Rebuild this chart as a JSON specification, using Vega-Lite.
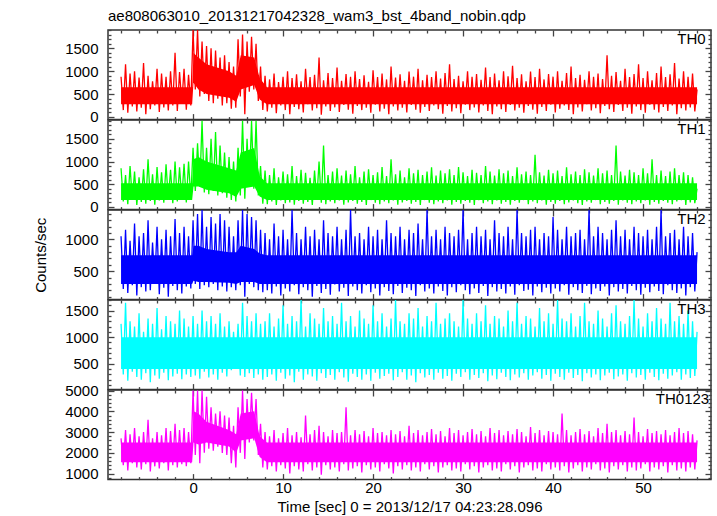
{
"$schema": "https://vega.github.io/schema/vega-lite/v6.json",
"background": "white",
"padding": {"left": 32, "top": 8, "right": 5, "bottom": 0},
"spacing": 0,
"bounds": "flush",
"config": {
 "font": "Liberation Sans",
 "view": {"stroke": "#333333", "strokeWidth": 1.5},
 "axis": {"grid": false, "domain": false, "labelFont": "Liberation Sans", "labelFontSize": 15, "labelColor": "black", "tickColor": "#444444", "tickWidth": 1.3, "titleFont": "Liberation Sans", "titleFontSize": 15, "titleFontWeight": "normal", "titleColor": "black", "labelOverlap": false, "format": "d"},
 "text": {"font": "Liberation Sans", "fontSize": 15, "color": "black"}
},
"datasets": {
"core": [
{"t":-8,"l0":280,"h0":650,"l1":150,"h1":520,"l2":300,"h2":750,"l3":400,"h3":1000,"l4":1550,"h4":2500},
{"t":-0.1,"l0":280,"h0":650,"l1":150,"h1":520,"l2":300,"h2":750,"l3":400,"h3":1000,"l4":1550,"h4":2500},
{"t":0.05,"l0":750,"h0":1400,"l1":450,"h1":1050,"l2":350,"h2":900,"l3":400,"h3":1000,"l4":2500,"h4":4000},
{"t":0.6,"l0":600,"h0":1300,"l1":450,"h1":1100,"l2":330,"h2":900,"l3":400,"h3":1000,"l4":2400,"h4":3900},
{"t":1.5,"l0":500,"h0":1150,"l1":380,"h1":1000,"l2":330,"h2":850,"l3":400,"h3":1000,"l4":2500,"h4":3500},
{"t":4,"l0":420,"h0":1000,"l1":300,"h1":850,"l2":320,"h2":800,"l3":400,"h3":1000,"l4":2300,"h4":3100},
{"t":4.8,"l0":330,"h0":900,"l1":220,"h1":800,"l2":300,"h2":800,"l3":400,"h3":1000,"l4":2000,"h4":2900},
{"t":5.3,"l0":600,"h0":1350,"l1":400,"h1":1200,"l2":330,"h2":900,"l3":400,"h3":1000,"l4":2600,"h4":3900},
{"t":6.8,"l0":700,"h0":1300,"l1":450,"h1":1300,"l2":330,"h2":850,"l3":400,"h3":1000,"l4":2700,"h4":4000},
{"t":7.4,"l0":380,"h0":850,"l1":230,"h1":680,"l2":300,"h2":780,"l3":400,"h3":1000,"l4":1800,"h4":2800},
{"t":8.2,"l0":280,"h0":650,"l1":150,"h1":520,"l2":300,"h2":750,"l3":400,"h3":1000,"l4":1550,"h4":2500},
{"t":56,"l0":280,"h0":650,"l1":150,"h1":520,"l2":300,"h2":750,"l3":400,"h3":1000,"l4":1550,"h4":2500}
],
"lc": [
{"t":-8,"th0":880,"th1":850,"th2":1050,"th3":1250,"sum":2700},
{"t":-7.75,"th0":150,"th1":120,"th2":220,"th3":300,"sum":1400},
{"t":-7.5,"th0":1150,"th1":700,"th2":1150,"th3":1650,"sum":3100},
{"t":-7.25,"th0":90,"th1":60,"th2":160,"th3":180,"sum":1150},
{"t":-7,"th0":950,"th1":900,"th2":980,"th3":1300,"sum":2900},
{"t":-6.75,"th0":230,"th1":150,"th2":280,"th3":350,"sum":1500},
{"t":-6.5,"th0":1000,"th1":780,"th2":1250,"th3":1200,"sum":3200},
{"t":-6.25,"th0":120,"th1":40,"th2":120,"th3":250,"sum":1300},
{"t":-6,"th0":860,"th1":650,"th2":1050,"th3":1450,"sum":2800},
{"t":-5.75,"th0":200,"th1":110,"th2":250,"th3":200,"sum":1200},
{"t":-5.5,"th0":1180,"th1":830,"th2":1100,"th3":1100,"sum":3000},
{"t":-5.25,"th0":60,"th1":70,"th2":180,"th3":320,"sum":1450},
{"t":-5,"th0":900,"th1":1050,"th2":1300,"th3":1350,"sum":3600},
{"t":-4.75,"th0":170,"th1":130,"th2":200,"th3":150,"sum":1100},
{"t":-4.5,"th0":780,"th1":720,"th2":950,"th3":1250,"sum":2700},
{"t":-4.25,"th0":250,"th1":50,"th2":300,"th3":280,"sum":1350},
{"t":-4,"th0":1050,"th1":880,"th2":1200,"th3":1550,"sum":3000},
{"t":-3.75,"th0":110,"th1":140,"th2":140,"th3":220,"sum":1250},
{"t":-3.5,"th0":950,"th1":760,"th2":1000,"th3":1150,"sum":2850},
{"t":-3.25,"th0":210,"th1":90,"th2":240,"th3":330,"sum":1500},
{"t":-3,"th0":880,"th1":940,"th2":1150,"th3":1400,"sum":3200},
{"t":-2.75,"th0":140,"th1":160,"th2":100,"th3":190,"sum":1150},
{"t":-2.5,"th0":1000,"th1":820,"th2":1050,"th3":1300,"sum":3050},
{"t":-2.25,"th0":250,"th1":80,"th2":270,"th3":260,"sum":1400},
{"t":-2,"th0":1400,"th1":1000,"th2":1320,"th3":1250,"sum":3400},
{"t":-1.75,"th0":130,"th1":120,"th2":200,"th3":310,"sum":1300},
{"t":-1.5,"th0":980,"th1":870,"th2":1100,"th3":1500,"sum":3100},
{"t":-1.25,"th0":300,"th1":170,"th2":150,"th3":210,"sum":1450},
{"t":-1,"th0":1050,"th1":950,"th2":1200,"th3":1350,"sum":3200},
{"t":-0.75,"th0":160,"th1":100,"th2":260,"th3":300,"sum":1350},
{"t":-0.5,"th0":920,"th1":1000,"th2":1050,"th3":1200,"sum":3000},
{"t":-0.25,"th0":250,"th1":180,"th2":230,"th3":250,"sum":1500},
{"t":0,"th0":1900,"th1":1300,"th2":1300,"th3":1400,"sum":5000},
{"t":0.25,"th0":600,"th1":350,"th2":300,"th3":280,"sum":1900},
{"t":0.5,"th0":1900,"th1":1400,"th2":1400,"th3":1250,"sum":5000},
{"t":0.75,"th0":450,"th1":450,"th2":220,"th3":220,"sum":1500},
{"t":1,"th0":1650,"th1":1900,"th2":1460,"th3":1500,"sum":5000},
{"t":1.25,"th0":500,"th1":320,"th2":280,"th3":350,"sum":2000},
{"t":1.5,"th0":1550,"th1":1300,"th2":1200,"th3":1300,"sum":4700},
{"t":1.75,"th0":350,"th1":280,"th2":250,"th3":240,"sum":2200},
{"t":2,"th0":1500,"th1":1500,"th2":1350,"th3":1400,"sum":4200},
{"t":2.25,"th0":300,"th1":350,"th2":300,"th3":300,"sum":2100},
{"t":2.5,"th0":1450,"th1":1650,"th2":1250,"th3":1250,"sum":3900},
{"t":2.75,"th0":400,"th1":250,"th2":200,"th3":200,"sum":2300},
{"t":3,"th0":1300,"th1":1350,"th2":1400,"th3":1450,"sum":4000},
{"t":3.25,"th0":250,"th1":300,"th2":260,"th3":330,"sum":2000},
{"t":3.5,"th0":1350,"th1":1200,"th2":1300,"th3":1200,"sum":3800},
{"t":3.75,"th0":300,"th1":200,"th2":180,"th3":260,"sum":1900},
{"t":4,"th0":1200,"th1":1100,"th2":1200,"th3":1300,"sum":3700},
{"t":4.25,"th0":180,"th1":150,"th2":250,"th3":380,"sum":1500},
{"t":4.5,"th0":1100,"th1":1000,"th2":1050,"th3":1100,"sum":3300},
{"t":4.75,"th0":200,"th1":120,"th2":200,"th3":400,"sum":1300},
{"t":5,"th0":1700,"th1":1300,"th2":1300,"th3":1250,"sum":4200},
{"t":5.25,"th0":450,"th1":250,"th2":280,"th3":280,"sum":2000},
{"t":5.5,"th0":1800,"th1":1900,"th2":1460,"th3":1650,"sum":5000},
{"t":5.75,"th0":60,"th1":180,"th2":100,"th3":250,"sum":1700},
{"t":6,"th0":1650,"th1":1500,"th2":1400,"th3":1400,"sum":4600},
{"t":6.25,"th0":550,"th1":450,"th2":300,"th3":320,"sum":2500},
{"t":6.5,"th0":1750,"th1":1900,"th2":1350,"th3":1300,"sum":4900},
{"t":6.75,"th0":600,"th1":400,"th2":250,"th3":230,"sum":2600},
{"t":7,"th0":1600,"th1":1900,"th2":1300,"th3":1450,"sum":4600},
{"t":7.25,"th0":350,"th1":250,"th2":200,"th3":300,"sum":1900},
{"t":7.5,"th0":1100,"th1":900,"th2":1150,"th3":1250,"sum":3400},
{"t":7.75,"th0":150,"th1":70,"th2":170,"th3":200,"sum":1300},
{"t":8,"th0":900,"th1":800,"th2":1100,"th3":1300,"sum":3000},
{"t":8.25,"th0":120,"th1":60,"th2":200,"th3":250,"sum":1200},
{"t":8.5,"th0":820,"th1":700,"th2":1000,"th3":1450,"sum":2800},
{"t":8.75,"th0":200,"th1":120,"th2":150,"th3":300,"sum":1350},
{"t":9,"th0":950,"th1":850,"th2":1250,"th3":1200,"sum":3100},
{"t":9.25,"th0":80,"th1":40,"th2":260,"th3":180,"sum":1100},
{"t":9.5,"th0":760,"th1":650,"th2":1050,"th3":1350,"sum":2700},
{"t":9.75,"th0":250,"th1":140,"th2":120,"th3":330,"sum":1400},
{"t":10,"th0":880,"th1":780,"th2":1150,"th3":1600,"sum":2950},
{"t":10.25,"th0":150,"th1":80,"th2":230,"th3":220,"sum":1250},
{"t":10.5,"th0":1000,"th1":720,"th2":1000,"th3":1250,"sum":3200},
{"t":10.75,"th0":60,"th1":100,"th2":180,"th3":280,"sum":1000},
{"t":11,"th0":850,"th1":900,"th2":1460,"th3":1400,"sum":2850},
{"t":11.25,"th0":220,"th1":50,"th2":280,"th3":150,"sum":1350},
{"t":11.5,"th0":930,"th1":680,"th2":1100,"th3":1300,"sum":3000},
{"t":11.75,"th0":170,"th1":130,"th2":140,"th3":350,"sum":1200},
{"t":12,"th0":780,"th1":820,"th2":1000,"th3":1700,"sum":2750},
{"t":12.25,"th0":100,"th1":70,"th2":250,"th3":200,"sum":1100},
{"t":12.5,"th0":1050,"th1":750,"th2":1200,"th3":1200,"sum":3800},
{"t":12.75,"th0":280,"th1":110,"th2":200,"th3":300,"sum":1450},
{"t":13,"th0":870,"th1":640,"th2":1050,"th3":1450,"sum":2900},
{"t":13.25,"th0":140,"th1":40,"th2":100,"th3":260,"sum":1150},
{"t":13.5,"th0":920,"th1":800,"th2":1150,"th3":1350,"sum":3100},
{"t":13.75,"th0":190,"th1":150,"th2":270,"th3":180,"sum":1300},
{"t":14,"th0":1300,"th1":1000,"th2":1000,"th3":1250,"sum":3300},
{"t":14.25,"th0":50,"th1":90,"th2":160,"th3":320,"sum":950},
{"t":14.5,"th0":800,"th1":1350,"th2":1300,"th3":1550,"sum":3000},
{"t":14.75,"th0":230,"th1":60,"th2":220,"th3":230,"sum":1400},
{"t":15,"th0":960,"th1":700,"th2":1100,"th3":1300,"sum":2800},
{"t":15.25,"th0":130,"th1":120,"th2":130,"th3":290,"sum":1200},
{"t":15.5,"th0":850,"th1":780,"th2":1050,"th3":1400,"sum":3100},
{"t":15.75,"th0":210,"th1":80,"th2":290,"th3":200,"sum":1300},
{"t":16,"th0":1080,"th1":850,"th2":1200,"th3":1250,"sum":2950},
{"t":16.25,"th0":110,"th1":140,"th2":180,"th3":340,"sum":1100},
{"t":16.5,"th0":790,"th1":690,"th2":1000,"th3":1650,"sum":3000},
{"t":16.75,"th0":260,"th1":50,"th2":240,"th3":240,"sum":1450},
{"t":17,"th0":940,"th1":800,"th2":1150,"th3":1300,"sum":4200},
{"t":17.25,"th0":160,"th1":100,"th2":110,"th3":160,"sum":1150},
{"t":17.5,"th0":880,"th1":720,"th2":1460,"th3":1400,"sum":2850},
{"t":17.75,"th0":70,"th1":130,"th2":260,"th3":310,"sum":1250},
{"t":18,"th0":1000,"th1":900,"th2":1050,"th3":1200,"sum":3100},
{"t":18.25,"th0":240,"th1":70,"th2":200,"th3":250,"sum":1350},
{"t":18.5,"th0":830,"th1":650,"th2":1100,"th3":1500,"sum":2900},
{"t":18.75,"th0":150,"th1":110,"th2":150,"th3":200,"sum":1050},
{"t":19,"th0":910,"th1":780,"th2":1000,"th3":1350,"sum":3050},
{"t":19.25,"th0":200,"th1":40,"th2":280,"th3":300,"sum":1400},
{"t":19.5,"th0":770,"th1":830,"th2":1200,"th3":1250,"sum":2800},
{"t":19.75,"th0":90,"th1":150,"th2":170,"th3":180,"sum":1200},
{"t":20,"th0":1020,"th1":700,"th2":1050,"th3":1600,"sum":3200},
{"t":20.25,"th0":270,"th1":90,"th2":230,"th3":330,"sum":1300},
{"t":20.5,"th0":870,"th1":760,"th2":1150,"th3":1300,"sum":2950},
{"t":20.75,"th0":120,"th1":60,"th2":120,"th3":220,"sum":1100},
{"t":21,"th0":950,"th1":880,"th2":1000,"th3":1450,"sum":3000},
{"t":21.25,"th0":180,"th1":120,"th2":250,"th3":270,"sum":1450},
{"t":21.5,"th0":820,"th1":680,"th2":1300,"th3":1200,"sum":2850},
{"t":21.75,"th0":60,"th1":80,"th2":190,"th3":310,"sum":1250},
{"t":22,"th0":1100,"th1":1050,"th2":1100,"th3":1350,"sum":3100},
{"t":22.25,"th0":230,"th1":140,"th2":140,"th3":190,"sum":1000},
{"t":22.5,"th0":860,"th1":720,"th2":1050,"th3":1700,"sum":2900},
{"t":22.75,"th0":140,"th1":50,"th2":270,"th3":250,"sum":1350},
{"t":23,"th0":930,"th1":800,"th2":1200,"th3":1300,"sum":3050},
{"t":23.25,"th0":200,"th1":100,"th2":160,"th3":340,"sum":1200},
{"t":23.5,"th0":790,"th1":650,"th2":1000,"th3":1250,"sum":2800},
{"t":23.75,"th0":100,"th1":130,"th2":240,"th3":200,"sum":1400},
{"t":24,"th0":990,"th1":850,"th2":1150,"th3":1450,"sum":3300},
{"t":24.25,"th0":260,"th1":70,"th2":200,"th3":280,"sum":1150},
{"t":24.5,"th0":880,"th1":740,"th2":1100,"th3":1350,"sum":2950},
{"t":24.75,"th0":160,"th1":110,"th2":110,"th3":150,"sum":1300},
{"t":25,"th0":1050,"th1":820,"th2":1250,"th3":1550,"sum":3100},
{"t":25.25,"th0":90,"th1":40,"th2":280,"th3":320,"sum":1100},
{"t":25.5,"th0":800,"th1":700,"th2":1000,"th3":1200,"sum":2850},
{"t":25.75,"th0":220,"th1":150,"th2":180,"th3":240,"sum":1450},
{"t":26,"th0":920,"th1":780,"th2":1460,"th3":1400,"sum":3000},
{"t":26.25,"th0":130,"th1":90,"th2":230,"th3":290,"sum":1200},
{"t":26.5,"th0":870,"th1":870,"th2":1050,"th3":1300,"sum":3150},
{"t":26.75,"th0":250,"th1":60,"th2":150,"th3":200,"sum":1350},
{"t":27,"th0":1000,"th1":690,"th2":1150,"th3":1650,"sum":2900},
{"t":27.25,"th0":170,"th1":120,"th2":260,"th3":330,"sum":1050},
{"t":27.5,"th0":840,"th1":800,"th2":1000,"th3":1250,"sum":3050},
{"t":27.75,"th0":70,"th1":80,"th2":190,"th3":220,"sum":1300},
{"t":28,"th0":960,"th1":740,"th2":1200,"th3":1350,"sum":2800},
{"t":28.25,"th0":240,"th1":140,"th2":120,"th3":270,"sum":1400},
{"t":28.5,"th0":1150,"th1":830,"th2":1100,"th3":1450,"sum":3200},
{"t":28.75,"th0":120,"th1":50,"th2":250,"th3":180,"sum":1150},
{"t":29,"th0":830,"th1":700,"th2":1050,"th3":1300,"sum":2950},
{"t":29.25,"th0":190,"th1":110,"th2":170,"th3":310,"sum":1250},
{"t":29.5,"th0":900,"th1":880,"th2":1150,"th3":1200,"sum":3100},
{"t":29.75,"th0":80,"th1":70,"th2":280,"th3":250,"sum":1100},
{"t":30,"th0":780,"th1":760,"th2":1460,"th3":1700,"sum":2850},
{"t":30.25,"th0":270,"th1":130,"th2":200,"th3":340,"sum":1450},
{"t":30.5,"th0":1000,"th1":680,"th2":1000,"th3":1350,"sum":3000},
{"t":30.75,"th0":150,"th1":90,"th2":140,"th3":200,"sum":1200},
{"t":31,"th0":880,"th1":820,"th2":1100,"th3":1250,"sum":3150},
{"t":31.25,"th0":210,"th1":40,"th2":230,"th3":290,"sum":1350},
{"t":31.5,"th0":940,"th1":750,"th2":1200,"th3":1450,"sum":2900},
{"t":31.75,"th0":100,"th1":150,"th2":160,"th3":230,"sum":1050},
{"t":32,"th0":810,"th1":700,"th2":1050,"th3":1300,"sum":3050},
{"t":32.25,"th0":250,"th1":80,"th2":270,"th3":320,"sum":1300},
{"t":32.5,"th0":1080,"th1":900,"th2":1150,"th3":1600,"sum":2800},
{"t":32.75,"th0":130,"th1":120,"th2":110,"th3":170,"sum":1400},
{"t":33,"th0":870,"th1":780,"th2":1000,"th3":1250,"sum":3200},
{"t":33.25,"th0":60,"th1":60,"th2":250,"th3":280,"sum":1150},
{"t":33.5,"th0":950,"th1":690,"th2":1300,"th3":1400,"sum":2950},
{"t":33.75,"th0":230,"th1":140,"th2":180,"th3":210,"sum":1250},
{"t":34,"th0":800,"th1":830,"th2":1100,"th3":1350,"sum":3100},
{"t":34.25,"th0":170,"th1":70,"th2":220,"th3":330,"sum":1100},
{"t":34.5,"th0":1000,"th1":740,"th2":1050,"th3":1200,"sum":2850},
{"t":34.75,"th0":110,"th1":110,"th2":150,"th3":250,"sum":1450},
{"t":35,"th0":890,"th1":800,"th2":1200,"th3":1500,"sum":3050},
{"t":35.25,"th0":260,"th1":50,"th2":260,"th3":190,"sum":1200},
{"t":35.5,"th0":1120,"th1":680,"th2":1000,"th3":1300,"sum":2900},
{"t":35.75,"th0":140,"th1":130,"th2":130,"th3":300,"sum":1350},
{"t":36,"th0":850,"th1":870,"th2":1460,"th3":1650,"sum":3150},
{"t":36.25,"th0":200,"th1":90,"th2":280,"th3":240,"sum":1050},
{"t":36.5,"th0":930,"th1":720,"th2":1100,"th3":1250,"sum":3000},
{"t":36.75,"th0":90,"th1":150,"th2":190,"th3":320,"sum":1300},
{"t":37,"th0":780,"th1":780,"th2":1050,"th3":1400,"sum":2800},
{"t":37.25,"th0":240,"th1":60,"th2":210,"th3":200,"sum":1400},
{"t":37.5,"th0":990,"th1":700,"th2":1150,"th3":1350,"sum":3250},
{"t":37.75,"th0":160,"th1":120,"th2":120,"th3":280,"sum":1150},
{"t":38,"th0":870,"th1":1150,"th2":1200,"th3":1200,"sum":2950},
{"t":38.25,"th0":70,"th1":80,"th2":260,"th3":340,"sum":1250},
{"t":38.5,"th0":1050,"th1":760,"th2":1000,"th3":1550,"sum":3100},
{"t":38.75,"th0":220,"th1":140,"th2":170,"th3":220,"sum":1100},
{"t":39,"th0":820,"th1":690,"th2":1100,"th3":1300,"sum":2850},
{"t":39.25,"th0":130,"th1":50,"th2":240,"th3":290,"sum":1450},
{"t":39.5,"th0":940,"th1":820,"th2":1050,"th3":1450,"sum":3050},
{"t":39.75,"th0":270,"th1":110,"th2":150,"th3":180,"sum":1200},
{"t":40,"th0":880,"th1":740,"th2":1350,"th3":1250,"sum":3000},
{"t":40.25,"th0":100,"th1":70,"th2":230,"th3":310,"sum":1300},
{"t":40.5,"th0":1000,"th1":800,"th2":1150,"th3":1700,"sum":2900},
{"t":40.75,"th0":180,"th1":130,"th2":180,"th3":250,"sum":1150},
{"t":41,"th0":790,"th1":680,"th2":1000,"th3":1350,"sum":3900},
{"t":41.25,"th0":250,"th1":60,"th2":280,"th3":200,"sum":1350},
{"t":41.5,"th0":960,"th1":870,"th2":1200,"th3":1300,"sum":3100},
{"t":41.75,"th0":150,"th1":100,"th2":130,"th3":330,"sum":1050},
{"t":42,"th0":1100,"th1":720,"th2":1050,"th3":1450,"sum":2850},
{"t":42.25,"th0":60,"th1":140,"th2":250,"th3":230,"sum":1250},
{"t":42.5,"th0":850,"th1":780,"th2":1100,"th3":1200,"sum":3000},
{"t":42.75,"th0":210,"th1":80,"th2":200,"th3":290,"sum":1400},
{"t":43,"th0":920,"th1":700,"th2":1150,"th3":1400,"sum":3150},
{"t":43.25,"th0":120,"th1":40,"th2":160,"th3":170,"sum":1100},
{"t":43.5,"th0":810,"th1":830,"th2":1000,"th3":1650,"sum":2900},
{"t":43.75,"th0":280,"th1":120,"th2":270,"th3":320,"sum":1300},
{"t":44,"th0":1000,"th1":760,"th2":1460,"th3":1300,"sum":3050},
{"t":44.25,"th0":140,"th1":90,"th2":140,"th3":240,"sum":1200},
{"t":44.5,"th0":880,"th1":690,"th2":1050,"th3":1250,"sum":2800},
{"t":44.75,"th0":190,"th1":150,"th2":230,"th3":300,"sum":1450},
{"t":45,"th0":950,"th1":850,"th2":1200,"th3":1500,"sum":3200},
{"t":45.25,"th0":80,"th1":60,"th2":190,"th3":190,"sum":1150},
{"t":45.5,"th0":830,"th1":740,"th2":1100,"th3":1350,"sum":2950},
{"t":45.75,"th0":240,"th1":110,"th2":260,"th3":280,"sum":1250},
{"t":46,"th0":1350,"th1":800,"th2":1000,"th3":1200,"sum":3400},
{"t":46.25,"th0":170,"th1":70,"th2":120,"th3":330,"sum":1050},
{"t":46.5,"th0":900,"th1":700,"th2":1150,"th3":1450,"sum":3000},
{"t":46.75,"th0":110,"th1":130,"th2":250,"th3":210,"sum":1350},
{"t":47,"th0":980,"th1":1350,"th2":1300,"th3":1600,"sum":3100},
{"t":47.25,"th0":260,"th1":50,"th2":180,"th3":260,"sum":1200},
{"t":47.5,"th0":790,"th1":780,"th2":1050,"th3":1300,"sum":2850},
{"t":47.75,"th0":130,"th1":140,"th2":220,"th3":300,"sum":1400},
{"t":48,"th0":1050,"th1":690,"th2":1150,"th3":1250,"sum":3050},
{"t":48.25,"th0":200,"th1":90,"th2":150,"th3":180,"sum":1100},
{"t":48.5,"th0":870,"th1":820,"th2":1000,"th3":1400,"sum":2900},
{"t":48.75,"th0":70,"th1":60,"th2":270,"th3":320,"sum":1300},
{"t":49,"th0":940,"th1":760,"th2":1200,"th3":1700,"sum":3700},
{"t":49.25,"th0":230,"th1":120,"th2":200,"th3":240,"sum":1150},
{"t":49.5,"th0":1150,"th1":700,"th2":1100,"th3":1350,"sum":3000},
{"t":49.75,"th0":150,"th1":80,"th2":130,"th3":290,"sum":1250},
{"t":50,"th0":850,"th1":850,"th2":1050,"th3":1200,"sum":2800},
{"t":50.25,"th0":90,"th1":140,"th2":240,"th3":200,"sum":1450},
{"t":50.5,"th0":1000,"th1":740,"th2":1150,"th3":1450,"sum":3150},
{"t":50.75,"th0":270,"th1":50,"th2":170,"th3":330,"sum":1100},
{"t":51,"th0":800,"th1":1050,"th2":1000,"th3":1300,"sum":2950},
{"t":51.25,"th0":160,"th1":110,"th2":260,"th3":250,"sum":1300},
{"t":51.5,"th0":960,"th1":700,"th2":1200,"th3":1550,"sum":3050},
{"t":51.75,"th0":100,"th1":70,"th2":190,"th3":190,"sum":1200},
{"t":52,"th0":1100,"th1":800,"th2":1460,"th3":1350,"sum":2900},
{"t":52.25,"th0":220,"th1":130,"th2":140,"th3":310,"sum":1350},
{"t":52.5,"th0":870,"th1":680,"th2":1050,"th3":1250,"sum":3100},
{"t":52.75,"th0":130,"th1":90,"th2":280,"th3":220,"sum":1050},
{"t":53,"th0":930,"th1":780,"th2":1100,"th3":1650,"sum":2850},
{"t":53.25,"th0":250,"th1":60,"th2":200,"th3":280,"sum":1400},
{"t":53.5,"th0":1180,"th1":850,"th2":1150,"th3":1300,"sum":3000},
{"t":53.75,"th0":60,"th1":120,"th2":160,"th3":340,"sum":1150},
{"t":54,"th0":840,"th1":700,"th2":1000,"th3":1400,"sum":3200},
{"t":54.25,"th0":190,"th1":150,"th2":230,"th3":200,"sum":1250},
{"t":54.5,"th0":1000,"th1":760,"th2":1200,"th3":1250,"sum":2950},
{"t":54.75,"th0":140,"th1":40,"th2":120,"th3":300,"sum":1100},
{"t":55,"th0":880,"th1":700,"th2":1050,"th3":1500,"sum":3050},
{"t":55.25,"th0":210,"th1":100,"th2":250,"th3":230,"sum":1300},
{"t":55.5,"th0":950,"th1":650,"th2":1100,"th3":1300,"sum":2900},
{"t":55.75,"th0":120,"th1":80,"th2":180,"th3":270,"sum":1200},
{"t":56,"th0":600,"th1":400,"th2":800,"th3":1100,"sum":2600}
]},
"vconcat": [
 {
  "width": 603, "height": 89.6,
  "title": {"text": "ae808063010_20131217042328_wam3_bst_4band_nobin.qdp", "anchor": "start", "frame": "group", "font": "Liberation Sans", "fontSize": 15, "fontWeight": "normal", "color": "black", "offset": -1},
  "layer": [
   {"data": {"name": "core"}, "mark": {"type": "area", "color": "#ff0000", "clip": true},
    "encoding": {
     "x": {"field": "t", "type": "quantitative", "scale": {"domain": [-9.45, 57.55], "nice": false, "zero": false}, "axis": null},
     "y": {"field": "l0", "type": "quantitative", "scale": {"domain": [-58, 1900], "nice": false, "zero": false}, "axis": null},
     "y2": {"field": "h0"}
    }},
   {"data": {"name": "lc"}, "mark": {"type": "line", "color": "#ff0000", "strokeWidth": 1.3, "clip": true},
    "encoding": {
     "x": {"field": "t", "type": "quantitative", "scale": {"domain": [-9.45, 57.55], "nice": false, "zero": false},
       "axis": {"orient": "bottom", "values": [-8,-6,-4,-2,0,2,4,6,8,10,12,14,16,18,20,22,24,26,28,30,32,34,36,38,40,42,44,46,48,50,52,54,56], "labels": false, "title": null, "tickSize": {"condition": {"test": "datum.value % 10 === 0", "value": -6}, "value": -3}}},
     "y": {"field": "th0", "type": "quantitative", "scale": {"domain": [-58, 1900], "nice": false, "zero": false},
       "axis": {"orient": "left", "values": [0,100,200,300,400,500,600,700,800,900,1000,1100,1200,1300,1400,1500,1600,1700,1800,1900], "labelExpr": "datum.value % 500 === 0 ? datum.label : ''", "labelPadding": 16, "title": null, "tickSize": {"condition": {"test": "datum.value % 500 === 0", "value": -6}, "value": -3}}}
    }},
   {"data": {"values": [{"label": "TH0"}]}, "mark": {"type": "text", "align": "right", "baseline": "top", "dy": 2},
    "encoding": {
     "x": {"datum": 56.95, "type": "quantitative", "scale": {"domain": [-9.45, 57.55], "nice": false, "zero": false},
       "axis": {"orient": "top", "values": [-8,-6,-4,-2,0,2,4,6,8,10,12,14,16,18,20,22,24,26,28,30,32,34,36,38,40,42,44,46,48,50,52,54,56], "labels": false, "title": null, "tickSize": {"condition": {"test": "datum.value % 10 === 0", "value": -6}, "value": -3}}},
     "y": {"datum": 1900, "type": "quantitative", "scale": {"domain": [-58, 1900], "nice": false, "zero": false},
       "axis": {"orient": "right", "values": [0,100,200,300,400,500,600,700,800,900,1000,1100,1200,1300,1400,1500,1600,1700,1800,1900], "labels": false, "title": null, "tickSize": {"condition": {"test": "datum.value % 500 === 0", "value": -6}, "value": -3}}},
     "text": {"field": "label"}
    }}
  ],
  "resolve": {"axis": {"x": "independent", "y": "independent"}}
 },
 {
  "width": 603, "height": 89.6,
  "layer": [
   {"data": {"name": "core"}, "mark": {"type": "area", "color": "#00ff00", "clip": true},
    "encoding": {
     "x": {"field": "t", "type": "quantitative", "scale": {"domain": [-9.45, 57.55], "nice": false, "zero": false}, "axis": null},
     "y": {"field": "l1", "type": "quantitative", "scale": {"domain": [-60, 1915], "nice": false, "zero": false}, "axis": null},
     "y2": {"field": "h1"}
    }},
   {"data": {"name": "lc"}, "mark": {"type": "line", "color": "#00ff00", "strokeWidth": 1.3, "clip": true},
    "encoding": {
     "x": {"field": "t", "type": "quantitative", "scale": {"domain": [-9.45, 57.55], "nice": false, "zero": false},
       "axis": {"orient": "bottom", "values": [-8,-6,-4,-2,0,2,4,6,8,10,12,14,16,18,20,22,24,26,28,30,32,34,36,38,40,42,44,46,48,50,52,54,56], "labels": false, "title": null, "tickSize": {"condition": {"test": "datum.value % 10 === 0", "value": -6}, "value": -3}}},
     "y": {"field": "th1", "type": "quantitative", "scale": {"domain": [-60, 1915], "nice": false, "zero": false},
       "axis": {"orient": "left", "values": [0,100,200,300,400,500,600,700,800,900,1000,1100,1200,1300,1400,1500,1600,1700,1800,1900], "labelExpr": "datum.value % 500 === 0 ? datum.label : ''", "labelPadding": 16, "title": null, "tickSize": {"condition": {"test": "datum.value % 500 === 0", "value": -6}, "value": -3}}}
    }},
   {"data": {"values": [{"label": "TH1"}]}, "mark": {"type": "text", "align": "right", "baseline": "top", "dy": 2},
    "encoding": {
     "x": {"datum": 56.95, "type": "quantitative", "scale": {"domain": [-9.45, 57.55], "nice": false, "zero": false},
       "axis": {"orient": "top", "values": [-8,-6,-4,-2,0,2,4,6,8,10,12,14,16,18,20,22,24,26,28,30,32,34,36,38,40,42,44,46,48,50,52,54,56], "labels": false, "title": null, "tickSize": {"condition": {"test": "datum.value % 10 === 0", "value": -6}, "value": -3}}},
     "y": {"datum": 1915, "type": "quantitative", "scale": {"domain": [-60, 1915], "nice": false, "zero": false},
       "axis": {"orient": "right", "values": [0,100,200,300,400,500,600,700,800,900,1000,1100,1200,1300,1400,1500,1600,1700,1800,1900], "labels": false, "title": null, "tickSize": {"condition": {"test": "datum.value % 500 === 0", "value": -6}, "value": -3}}},
     "text": {"field": "label"}
    }}
  ],
  "resolve": {"axis": {"x": "independent", "y": "independent"}}
 },
 {
  "width": 603, "height": 89.6,
  "layer": [
   {"data": {"name": "core"}, "mark": {"type": "area", "color": "#0000ff", "clip": true},
    "encoding": {
     "x": {"field": "t", "type": "quantitative", "scale": {"domain": [-9.45, 57.55], "nice": false, "zero": false}, "axis": null},
     "y": {"field": "l2", "type": "quantitative", "scale": {"domain": [54, 1462], "nice": false, "zero": false}, "axis": null},
     "y2": {"field": "h2"}
    }},
   {"data": {"name": "lc"}, "mark": {"type": "line", "color": "#0000ff", "strokeWidth": 1.3, "clip": true},
    "encoding": {
     "x": {"field": "t", "type": "quantitative", "scale": {"domain": [-9.45, 57.55], "nice": false, "zero": false},
       "axis": {"orient": "bottom", "values": [-8,-6,-4,-2,0,2,4,6,8,10,12,14,16,18,20,22,24,26,28,30,32,34,36,38,40,42,44,46,48,50,52,54,56], "labels": false, "title": null, "tickSize": {"condition": {"test": "datum.value % 10 === 0", "value": -6}, "value": -3}}},
     "y": {"field": "th2", "type": "quantitative", "scale": {"domain": [54, 1462], "nice": false, "zero": false},
       "axis": {"orient": "left", "values": [100,200,300,400,500,600,700,800,900,1000,1100,1200,1300,1400], "labelExpr": "datum.value % 500 === 0 ? datum.label : ''", "labelPadding": 16, "title": "Counts/sec", "titlePadding": 16, "tickSize": {"condition": {"test": "datum.value % 500 === 0", "value": -6}, "value": -3}}}
    }},
   {"data": {"values": [{"label": "TH2"}]}, "mark": {"type": "text", "align": "right", "baseline": "top", "dy": 2},
    "encoding": {
     "x": {"datum": 56.95, "type": "quantitative", "scale": {"domain": [-9.45, 57.55], "nice": false, "zero": false},
       "axis": {"orient": "top", "values": [-8,-6,-4,-2,0,2,4,6,8,10,12,14,16,18,20,22,24,26,28,30,32,34,36,38,40,42,44,46,48,50,52,54,56], "labels": false, "title": null, "tickSize": {"condition": {"test": "datum.value % 10 === 0", "value": -6}, "value": -3}}},
     "y": {"datum": 1462, "type": "quantitative", "scale": {"domain": [54, 1462], "nice": false, "zero": false},
       "axis": {"orient": "right", "values": [100,200,300,400,500,600,700,800,900,1000,1100,1200,1300,1400], "labels": false, "title": null, "tickSize": {"condition": {"test": "datum.value % 500 === 0", "value": -6}, "value": -3}}},
     "text": {"field": "label"}
    }}
  ],
  "resolve": {"axis": {"x": "independent", "y": "independent"}}
 },
 {
  "width": 603, "height": 89.6,
  "layer": [
   {"data": {"name": "core"}, "mark": {"type": "area", "color": "#00ffff", "clip": true},
    "encoding": {
     "x": {"field": "t", "type": "quantitative", "scale": {"domain": [-9.45, 57.55], "nice": false, "zero": false}, "axis": null},
     "y": {"field": "l3", "type": "quantitative", "scale": {"domain": [13, 1700], "nice": false, "zero": false}, "axis": null},
     "y2": {"field": "h3"}
    }},
   {"data": {"name": "lc"}, "mark": {"type": "line", "color": "#00ffff", "strokeWidth": 1.3, "clip": true},
    "encoding": {
     "x": {"field": "t", "type": "quantitative", "scale": {"domain": [-9.45, 57.55], "nice": false, "zero": false},
       "axis": {"orient": "bottom", "values": [-8,-6,-4,-2,0,2,4,6,8,10,12,14,16,18,20,22,24,26,28,30,32,34,36,38,40,42,44,46,48,50,52,54,56], "labels": false, "title": null, "tickSize": {"condition": {"test": "datum.value % 10 === 0", "value": -6}, "value": -3}}},
     "y": {"field": "th3", "type": "quantitative", "scale": {"domain": [13, 1700], "nice": false, "zero": false},
       "axis": {"orient": "left", "values": [100,200,300,400,500,600,700,800,900,1000,1100,1200,1300,1400,1500,1600,1700], "labelExpr": "datum.value % 500 === 0 ? datum.label : ''", "labelPadding": 16, "title": null, "tickSize": {"condition": {"test": "datum.value % 500 === 0", "value": -6}, "value": -3}}}
    }},
   {"data": {"values": [{"label": "TH3"}]}, "mark": {"type": "text", "align": "right", "baseline": "top", "dy": 2},
    "encoding": {
     "x": {"datum": 56.95, "type": "quantitative", "scale": {"domain": [-9.45, 57.55], "nice": false, "zero": false},
       "axis": {"orient": "top", "values": [-8,-6,-4,-2,0,2,4,6,8,10,12,14,16,18,20,22,24,26,28,30,32,34,36,38,40,42,44,46,48,50,52,54,56], "labels": false, "title": null, "tickSize": {"condition": {"test": "datum.value % 10 === 0", "value": -6}, "value": -3}}},
     "y": {"datum": 1700, "type": "quantitative", "scale": {"domain": [13, 1700], "nice": false, "zero": false},
       "axis": {"orient": "right", "values": [100,200,300,400,500,600,700,800,900,1000,1100,1200,1300,1400,1500,1600,1700], "labels": false, "title": null, "tickSize": {"condition": {"test": "datum.value % 500 === 0", "value": -6}, "value": -3}}},
     "text": {"field": "label"}
    }}
  ],
  "resolve": {"axis": {"x": "independent", "y": "independent"}}
 },
 {
  "width": 603, "height": 89.6,
  "layer": [
   {"data": {"name": "core"}, "mark": {"type": "area", "color": "#ff00ff", "clip": true},
    "encoding": {
     "x": {"field": "t", "type": "quantitative", "scale": {"domain": [-9.45, 57.55], "nice": false, "zero": false}, "axis": null},
     "y": {"field": "l4", "type": "quantitative", "scale": {"domain": [710, 5030], "nice": false, "zero": false}, "axis": null},
     "y2": {"field": "h4"}
    }},
   {"data": {"name": "lc"}, "mark": {"type": "line", "color": "#ff00ff", "strokeWidth": 1.3, "clip": true},
    "encoding": {
     "x": {"field": "t", "type": "quantitative", "scale": {"domain": [-9.45, 57.55], "nice": false, "zero": false},
       "axis": {"orient": "bottom", "values": [-8,-6,-4,-2,0,2,4,6,8,10,12,14,16,18,20,22,24,26,28,30,32,34,36,38,40,42,44,46,48,50,52,54,56], "labelExpr": "datum.value % 10 === 0 ? datum.label : ''", "labelPadding": 7, "labelFlush": false, "title": "Time [sec] 0 = 2013/12/17 04:23:28.096", "titlePadding": 1, "tickSize": {"condition": {"test": "datum.value % 10 === 0", "value": -6}, "value": -3}}},
     "y": {"field": "sum", "type": "quantitative", "scale": {"domain": [710, 5030], "nice": false, "zero": false},
       "axis": {"orient": "left", "values": [800,1000,1200,1400,1600,1800,2000,2200,2400,2600,2800,3000,3200,3400,3600,3800,4000,4200,4400,4600,4800,5000], "labelExpr": "datum.value % 1000 === 0 ? datum.label : ''", "labelPadding": 16, "title": null, "tickSize": {"condition": {"test": "datum.value % 1000 === 0", "value": -6}, "value": -3}}}
    }},
   {"data": {"values": [{"label": "TH0123"}]}, "mark": {"type": "text", "align": "right", "baseline": "top", "dy": 2},
    "encoding": {
     "x": {"datum": 57.35, "type": "quantitative", "scale": {"domain": [-9.45, 57.55], "nice": false, "zero": false},
       "axis": {"orient": "top", "values": [-8,-6,-4,-2,0,2,4,6,8,10,12,14,16,18,20,22,24,26,28,30,32,34,36,38,40,42,44,46,48,50,52,54,56], "labels": false, "title": null, "tickSize": {"condition": {"test": "datum.value % 10 === 0", "value": -6}, "value": -3}}},
     "y": {"datum": 5030, "type": "quantitative", "scale": {"domain": [710, 5030], "nice": false, "zero": false},
       "axis": {"orient": "right", "values": [800,1000,1200,1400,1600,1800,2000,2200,2400,2600,2800,3000,3200,3400,3600,3800,4000,4200,4400,4600,4800,5000], "labels": false, "title": null, "tickSize": {"condition": {"test": "datum.value % 1000 === 0", "value": -6}, "value": -3}}},
     "text": {"field": "label"}
    }}
  ],
  "resolve": {"axis": {"x": "independent", "y": "independent"}}
 }
]
}
